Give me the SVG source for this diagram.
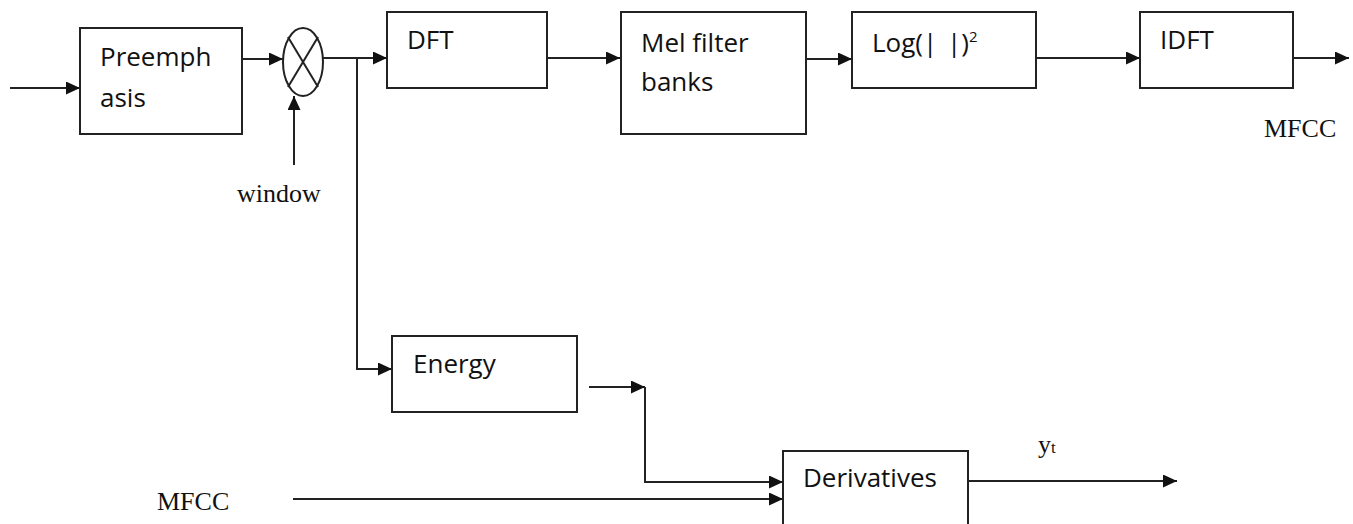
<svg xmlns="http://www.w3.org/2000/svg" width="1353" height="524" viewBox="0 0 1353 524">
  <style>
    .box { fill: #ffffff; stroke: #222222; stroke-width: 2; }
    .lbl { font-family: "Open Sans", "Liberation Sans", sans-serif; font-size: 26px; fill: #111111; }
    .ser { font-family: "Liberation Serif", "DejaVu Serif", serif; font-size: 26px; fill: #111111; }
    .wire { fill: none; stroke: #222222; stroke-width: 2; }
    .arr { marker-end: url(#head); }
  </style>
  <defs>
    <marker id="head" markerUnits="userSpaceOnUse" markerWidth="15" markerHeight="13" refX="14" refY="6.5" orient="auto">
      <path d="M0,0 L14,6.5 L0,13 z" fill="#111111"/>
    </marker>
  </defs>
  <rect width="1353" height="524" fill="#ffffff"/>

  <!-- signal flow -->
  <g id="connectors">
    <line class="wire arr" x1="10" y1="88" x2="80" y2="88"/>
    <line class="wire arr" x1="242" y1="59" x2="283" y2="59"/>
    <line class="wire arr" x1="294" y1="165" x2="294" y2="96"/>
    <line class="wire arr" x1="323" y1="58" x2="387" y2="58"/>
    <polyline class="wire arr" points="357,58 357,369 392,369"/>
    <line class="wire arr" x1="547" y1="58" x2="620" y2="58"/>
    <line class="wire arr" x1="806" y1="59" x2="852" y2="59"/>
    <line class="wire arr" x1="1036" y1="58" x2="1140" y2="58"/>
    <line class="wire arr" x1="1293" y1="58" x2="1349" y2="58"/>
    <line class="wire arr" x1="589" y1="387" x2="645" y2="387"/>
    <polyline class="wire arr" points="645,387 645,482 783,482"/>
    <line class="wire arr" x1="293" y1="499" x2="783" y2="499"/>
    <line class="wire arr" x1="968" y1="481" x2="1177" y2="481"/>
  </g>

  <g id="preemphasis">
    <rect class="box" x="80" y="28" width="162" height="106"/>
    <text class="lbl" x="100" y="66">Preemph</text>
    <text class="lbl" x="100" y="107">asis</text>
  </g>

  <g id="multiplier">
    <ellipse class="box" cx="303" cy="62" rx="20" ry="34"/>
    <line class="wire" x1="288" y1="37" x2="318" y2="87"/>
    <line class="wire" x1="318" y1="37" x2="288" y2="87"/>
  </g>

  <g id="window-label">
    <text class="ser" x="237" y="202">window</text>
  </g>

  <g id="dft">
    <rect class="box" x="387" y="12" width="160" height="76"/>
    <text class="lbl" x="407" y="49">DFT</text>
  </g>

  <g id="mel">
    <rect class="box" x="621" y="12" width="185" height="122"/>
    <text class="lbl" x="641" y="52">Mel filter</text>
    <text class="lbl" x="641" y="91">banks</text>
  </g>

  <g id="log">
    <rect class="box" x="852" y="12" width="184" height="76"/>
    <text class="lbl" x="872" y="52">Log(|<tspan x="947">|)</tspan><tspan x="969" y="42" font-size="15">2</tspan></text>
  </g>

  <g id="idft">
    <rect class="box" x="1140" y="12" width="153" height="76"/>
    <text class="lbl" x="1160" y="49">IDFT</text>
  </g>

  <g id="mfcc-out">
    <text class="ser" x="1264" y="137">MFCC</text>
  </g>

  <g id="energy">
    <rect class="box" x="392" y="336" width="185" height="76"/>
    <text class="lbl" x="413" y="373">Energy</text>
  </g>

  <g id="derivatives">
    <rect class="box" x="783" y="451" width="185" height="100"/>
    <text class="lbl" x="803" y="487">Derivatives</text>
  </g>

  <g id="mfcc-in">
    <text class="ser" x="157" y="510">MFCC</text>
  </g>

  <g id="yt-label">
    <text class="ser" x="1038" y="453">y<tspan font-size="17">t</tspan></text>
  </g>
</svg>
